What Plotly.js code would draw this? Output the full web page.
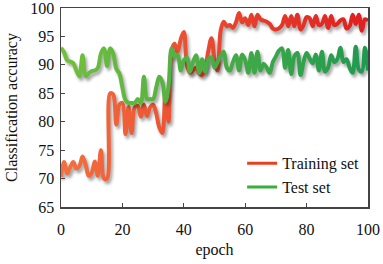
<!DOCTYPE html>
<html><head><meta charset="utf-8">
<script src="https://cdn.plot.ly/plotly-3.0.1.min.js"></script>
<style>
html,body{margin:0;padding:0;background:#fff;}
#chart{width:383px;height:264px;}
.scatterlayer .trace path.js-line{filter: drop-shadow(2px 3px 1.5px rgba(0,0,0,0.35));}
</style>
</head><body>
<div id="chart"></div>
<script>
const epochs = Array.from({length:101},(_,i)=>i);
const trainAcc = [70.3,72.9,70.9,72.0,72.9,71.8,72.2,73.9,72.5,70.5,
71.0,73.0,70.5,75.0,70.0,70.0,85.0,84.8,79.5,83.0,
83.3,77.8,82.6,78.0,82.5,82.8,80.9,83.0,81.0,82.5,
83.0,81.5,79.0,78.0,85.0,80.0,92.5,93.7,92.3,94.5,
95.8,90.0,88.6,89.0,89.5,88.5,88.2,89.5,92.5,94.7,
91.0,89.0,96.0,97.6,96.8,97.0,96.5,97.5,99.1,97.5,
98.2,97.0,98.8,96.8,98.8,98.0,97.8,97.6,97.2,96.4,
96.2,96.4,97.0,98.6,96.8,98.6,96.8,98.8,96.2,97.0,
98.4,98.2,96.8,98.6,97.0,97.2,98.6,96.5,98.6,97.0,
97.2,97.8,98.0,96.4,96.8,98.8,97.2,98.8,96.0,98.0,97.8];
const testAcc = [93.0,92.2,90.8,90.6,90.3,89.0,88.0,91.7,88.0,88.5,
88.9,89.0,89.5,92.0,92.9,89.8,92.9,92.0,89.3,88.5,
86.0,83.8,83.3,83.3,83.3,84.0,83.3,87.9,84.0,84.0,
84.0,86.0,87.9,87.0,83.5,86.0,92.9,91.4,91.8,89.0,
90.8,91.3,88.8,90.5,91.7,88.6,91.0,88.8,91.0,91.3,
89.5,90.5,91.5,92.3,89.5,89.0,90.5,91.7,89.0,91.8,
90.8,88.6,92.1,88.6,92.3,89.0,90.2,89.5,88.6,90.5,
91.5,92.5,92.9,89.5,92.6,88.4,91.5,92.1,88.2,90.5,
92.1,91.1,90.3,91.8,89.0,92.3,88.8,89.5,91.7,90.5,
91.0,93.0,90.5,91.0,89.5,88.6,93.2,89.2,88.8,93.0,89.0];
const seriesNames = ['Training set','Test set'];
const xTicks = [0,20,40,60,80,100];
const yTicks = [65,70,75,80,85,90,95,100];

const font = {family:'"Liberation Serif","Times New Roman",serif', size:16, color:'#111'};
const traces = [
 {x:epochs, y:trainAcc, name:seriesNames[0], mode:'lines', line:{color:'#E8401F', width:4, shape:'spline', smoothing:1}},
 {x:epochs, y:testAcc, name:seriesNames[1], mode:'lines', line:{color:'#3AAE3E', width:4, shape:'spline', smoothing:1}}
];
const axisCommon = {showgrid:false, zeroline:false, showline:true, linecolor:'#444', linewidth:1.5, mirror:true,
  ticks:'inside', ticklen:4, tickcolor:'#444', tickfont:font, ticklabeloverflow:'allow'};
const layout = {
  width:383, height:264,
  margin:{l:61, r:15, t:8, b:57},
  paper_bgcolor:'#fff', plot_bgcolor:'#fff',
  font:font,
  showlegend:true,
  legend:{x:0.59, y:0.305, xanchor:'left', yanchor:'top', bgcolor:'rgba(0,0,0,0)', font:font, tracegroupgap:0, itemwidth:30},
  xaxis:Object.assign({}, axisCommon, {range:[0,100], tickvals:xTicks, ticklabelstandoff:7, title:{text:'epoch', font:font, standoff:7}}),
  yaxis:Object.assign({}, axisCommon, {range:[65,100], tickvals:yTicks, ticklabelstandoff:2, title:{text:'Classification accuracy', font:font, standoff:8}})
};
Plotly.newPlot('chart', traces, layout, {staticPlot:true, displayModeBar:false}).then(gd=>{
  const svg = gd.querySelector('svg.main-svg');
  const ns='http://www.w3.org/2000/svg';
  let defs = svg.querySelector('defs');
  function grad(id, c1, c2){
    const g=document.createElementNS(ns,'linearGradient');
    g.setAttribute('id',id); g.setAttribute('x1','0'); g.setAttribute('x2','1'); g.setAttribute('y1','0'); g.setAttribute('y2','0');
    [[0,c1],[1,c2]].forEach(([o,c])=>{const s=document.createElementNS(ns,'stop'); s.setAttribute('offset',o); s.setAttribute('stop-color',c); g.appendChild(s);});
    defs.appendChild(g);
  }
  grad('gTrain','#F4703E','#E01E1E');
  grad('gTest','#72C03A','#1E9A50');
  const lines = gd.querySelectorAll('.scatterlayer .trace path.js-line');
  if(lines[0]) lines[0].style.stroke='url(#gTrain)';
  if(lines[1]) lines[1].style.stroke='url(#gTest)';
  const leg = gd.querySelectorAll('.legend .traces path.js-line');
  leg.forEach(p=>{p.style.strokeWidth='3px';});
});
</script>
</body></html>
